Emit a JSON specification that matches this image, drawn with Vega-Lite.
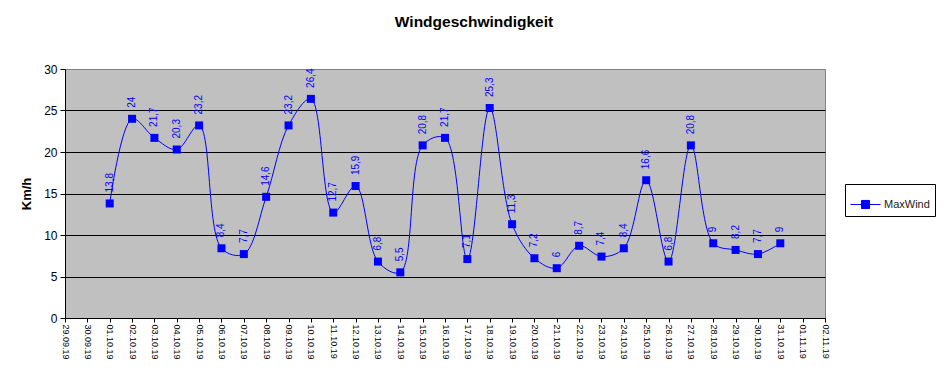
{
  "$schema": "https://vega.github.io/schema/vega-lite/v6.json",
  "width": 760,
  "height": 249,
  "autosize": {"type": "none"},
  "padding": {"left": 65, "top": 69, "right": 121, "bottom": 57},
  "background": "white",
  "title": {"text": "Windgeschwindigkeit", "font": "Liberation Sans", "fontSize": 15.5, "fontWeight": "bold", "offset": 33, "dx": 29, "anchor": "middle", "color": "black"},
  "config": {
    "font": "Liberation Sans",
    "view": {"fill": "#c0c0c0", "stroke": "#808080", "strokeWidth": 1},
    "locale": {"number": {"decimal": ",", "thousands": ".", "grouping": [3], "currency": ["", " €"]}}
  },
  "data": {"values": [
    {"d": "01.10.19", "v": 13.8}, {"d": "02.10.19", "v": 24}, {"d": "03.10.19", "v": 21.7},
    {"d": "04.10.19", "v": 20.3}, {"d": "05.10.19", "v": 23.2}, {"d": "06.10.19", "v": 8.4},
    {"d": "07.10.19", "v": 7.7}, {"d": "08.10.19", "v": 14.6}, {"d": "09.10.19", "v": 23.2},
    {"d": "10.10.19", "v": 26.4}, {"d": "11.10.19", "v": 12.7}, {"d": "12.10.19", "v": 15.9},
    {"d": "13.10.19", "v": 6.8}, {"d": "14.10.19", "v": 5.5}, {"d": "15.10.19", "v": 20.8},
    {"d": "16.10.19", "v": 21.7}, {"d": "17.10.19", "v": 7.1}, {"d": "18.10.19", "v": 25.3},
    {"d": "19.10.19", "v": 11.3}, {"d": "20.10.19", "v": 7.2}, {"d": "21.10.19", "v": 6},
    {"d": "22.10.19", "v": 8.7}, {"d": "23.10.19", "v": 7.4}, {"d": "24.10.19", "v": 8.4},
    {"d": "25.10.19", "v": 16.6}, {"d": "26.10.19", "v": 6.8}, {"d": "27.10.19", "v": 20.8},
    {"d": "28.10.19", "v": 9}, {"d": "29.10.19", "v": 8.2}, {"d": "30.10.19", "v": 7.7},
    {"d": "31.10.19", "v": 9}
  ]},
  "encoding": {
    "x": {
      "field": "d", "type": "ordinal",
      "scale": {"type": "point", "padding": 0, "domain": ["29.09.19", "30.09.19", "01.10.19", "02.10.19", "03.10.19", "04.10.19", "05.10.19", "06.10.19", "07.10.19", "08.10.19", "09.10.19", "10.10.19", "11.10.19", "12.10.19", "13.10.19", "14.10.19", "15.10.19", "16.10.19", "17.10.19", "18.10.19", "19.10.19", "20.10.19", "21.10.19", "22.10.19", "23.10.19", "24.10.19", "25.10.19", "26.10.19", "27.10.19", "28.10.19", "29.10.19", "30.10.19", "31.10.19", "01.11.19", "02.11.19"]},
      "axis": {"title": null, "labelAngle": 90, "labelAlign": "left", "labelBaseline": "middle", "labelFontSize": 9, "labelColor": "black", "labelPadding": 2, "tickSize": 4, "tickColor": "black", "domainColor": "black", "grid": false}
    },
    "y": {
      "field": "v", "type": "quantitative",
      "scale": {"domain": [0, 30], "nice": false, "zero": true},
      "axis": {"values": [0, 5, 10, 15, 20, 25, 30], "title": "Km/h", "titleFontSize": 13, "titleFontWeight": "bold", "titleColor": "black", "titleX": -32,
        "labelFontSize": 12, "labelColor": "black", "labelPadding": 3, "tickSize": 5, "tickColor": "black", "domainColor": "black",
        "grid": true, "gridColor": {"condition": {"test": "datum.value == 30", "value": "#808080"}, "value": "black"}, "gridOpacity": 1, "gridWidth": 1}
    }
  },
  "layer": [
    {"mark": {"type": "line", "interpolate": "catmull-rom", "color": "#0000ff", "strokeWidth": 1}},
    {"mark": {"type": "point", "shape": "square", "filled": true, "size": 64, "opacity": 1},
     "encoding": {"color": {"datum": "MaxWind", "scale": {"range": ["#0000ff"]},
       "legend": {"title": null, "orient": "none", "legendX": 780, "legendY": 115, "strokeColor": "black", "fillColor": "white", "padding": 5, "labelFontSize": 11, "labelColor": "#222222",
         "symbolType": "M-1,0L1,0M-0.27,-0.27L0.27,-0.27L0.27,0.27L-0.27,0.27Z", "symbolSize": 900, "symbolStrokeWidth": 1, "symbolStrokeColor": "#0000ff", "symbolFillColor": "#0000ff", "symbolOpacity": 1, "labelOffset": 3}}}},
    {"mark": {"type": "text", "angle": -90, "align": "left", "baseline": "middle", "dx": 11, "fontSize": 10, "color": "#0000ff"},
     "encoding": {"text": {"field": "v", "type": "quantitative", "format": ".1~f"}}}
  ]
}
